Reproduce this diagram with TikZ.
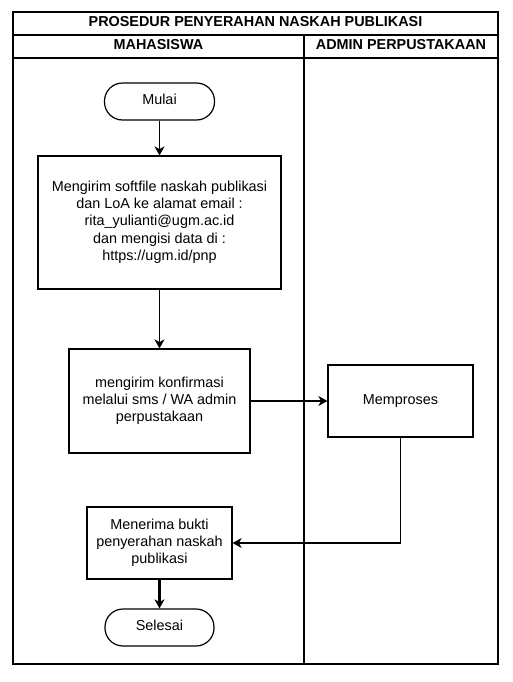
\documentclass[tikz,border=0pt]{standalone}
\usepackage{fontspec}
\setmainfont{Liberation Sans}
\usetikzlibrary{arrows.meta}
\newcommand\celltext[1]{\raisebox{-1.2pt}{\begin{tabular}{@{}c@{}}#1\end{tabular}}}
\begin{document}
\begin{tikzpicture}[x=0.75pt,y=-0.75pt,
  every node/.style={font=\fontsize{10.8}{13}\selectfont, inner sep=0pt},
  lane/.style={draw, line width=0.9pt},
  procbox/.style={draw, line width=0.9pt, rectangle},
  term/.style={draw, line width=0.9pt, rectangle, rounded corners=13.5pt, minimum height=27.75pt},
  hdr/.style={font=\bfseries\fontsize{10.8}{13}\selectfont},
  flow/.style={line width=0.9pt, -{Stealth[length=6.75pt, width=7.5pt, inset=2pt]}},
  thickflow/.style={line width=1.6pt, -{Stealth[length=6.75pt, width=7.5pt, inset=2pt]}}
]
\useasboundingbox (0,0) rectangle (512,682);
% swimlane frame
\draw[lane] (13,12) rectangle (498,664);
\draw[lane] (13,35) -- (498,35);
\draw[lane] (13,58) -- (498,58);
\draw[lane] (304,35) -- (304,664);
\node[hdr] (title) at (255.5,23.5) {\celltext{PROSEDUR PENYERAHAN NASKAH PUBLIKASI}};
\node[hdr] (lane1) at (158.5,46.5) {\celltext{MAHASISWA}};
\node[hdr] (lane2) at (401,46.5) {\celltext{ADMIN PERPUSTAKAAN}};
% nodes
\node[term, minimum width=82.5pt] (mulai) at (159.5,101.5) {\celltext{Mulai}};
\node[procbox, minimum width=182.25pt, minimum height=99.75pt] (kirim) at (159.5,222.5)
  {\celltext{Mengirim softfile naskah publikasi\\dan LoA ke alamat email :\\rita\_yulianti@ugm.ac.id\\dan mengisi data di :\\https://ugm.id/pnp}};
\node[procbox, minimum width=135.75pt, minimum height=78pt] (konfirm) at (159.5,401)
  {\celltext{mengirim konfirmasi\\melalui sms / WA admin\\perpustakaan}};
\node[procbox, minimum width=108.75pt, minimum height=54pt] (proses) at (400.5,401) {\celltext{Memproses}};
\node[procbox, minimum width=108.75pt, minimum height=54pt] (terima) at (159.5,543)
  {\celltext{Menerima bukti\\penyerahan naskah\\publikasi}};
\node[term, minimum width=81.75pt] (selesai) at (159.5,627.5) {\celltext{Selesai}};
% connectors
\draw[flow] (mulai) -- (kirim);
\draw[flow] (kirim) -- (konfirm);
\draw[flow] (konfirm) -- (proses);
\draw[flow] (proses.south) |- (terima.east);
\draw[thickflow] (terima) -- (selesai);
\end{tikzpicture}
\end{document}
